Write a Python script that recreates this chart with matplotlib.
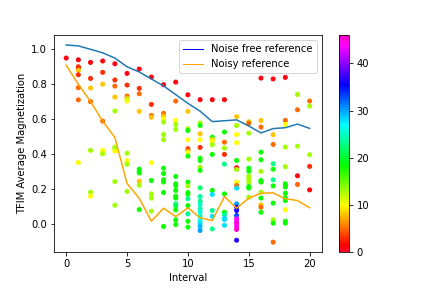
import matplotlib
matplotlib.use('Agg')
import matplotlib.pyplot as plt
from matplotlib.lines import Line2D

# Curvas de referencia
intervalos = list(range(21))
sem_ruido = [1.025, 1.02, 1.0, 0.98, 0.95, 0.9, 0.87, 0.83, 0.79, 0.74, 0.69,
             0.645, 0.585, 0.59, 0.595, 0.56, 0.52, 0.545, 0.55, 0.571, 0.546]
com_ruido = [0.908, 0.80, 0.70, 0.588, 0.494, 0.23, 0.145, 0.013, 0.088, 0.04, 0.09,
             0.033, 0.017, 0.155, 0.088, 0.145, 0.174, 0.176, 0.142, 0.132, 0.09]

# Pontos medidos (valor, cor) por intervalo
R, OR, O, YO, Y, YG, G, GC, C, B, M = 1, 3, 5, 8, 10, 13, 18, 23, 28, 37, 44
medidas = [
    [(0.95, R)],
    [(0.94, R), (0.90, OR), (0.894, OR), (0.88, YO), (0.854, OR), (0.78, O), (0.71, O), (0.35, Y)],
    [(0.925, R), (0.833, OR), (0.778, YO), (0.70, O), (0.42, YG), (0.18, YG), (0.157, Y)],
    [(0.933, R), (0.868, OR), (0.80, YO), (0.588, O), (0.42, Y), (0.41, Y), (0.40, YG)],
    [(0.917, R), (0.824, OR), (0.789, O), (0.726, YO), (0.646, YG), (0.439, YG), (0.425, YG),
     (0.416, Y), (0.241, YG), (0.105, YG)],
    [(0.862, R), (0.795, OR), (0.732, O), (0.72, YO), (0.71, YG), (0.703, Y), (0.404, YG),
     (0.362, Y), (0.35, Y), (0.34, YG), (0.184, YG)],
    [(0.887, R), (0.776, OR), (0.745, O), (0.644, YO), (0.312, G), (0.30, G), (0.29, G),
     (0.243, YO), (0.22, YG), (0.08, G)],
    [(0.841, R), (0.684, OR), (0.62, O), (0.61, YO), (0.349, Y), (0.247, G), (0.17, YG),
     (0.146, YG), (0.071, YG)],
    [(0.797, R), (0.632, O), (0.617, YO), (0.60, Y), (0.582, YG), (0.511, YG), (0.481, YG),
     (0.318, G), (0.287, G), (0.251, G), (0.238, G), (0.178, G), (-0.017, G)],
    [(0.812, R), (0.703, O), (0.592, Y), (0.569, YG), (0.54, YG), (0.27, G), (0.228, G),
     (0.218, G), (0.19, G), (0.157, G), (0.146, G), (0.113, GC), (0.10, 21), (0.078, G),
     (0.021, G), (-0.006, G)],
    [(0.739, R), (0.644, YO), (0.544, YG), (0.534, G), (0.481, Y), (0.429, OR), (0.42, O),
     (0.41, Y), (0.387, G), (0.238, G), (0.215, YG), (0.178, G), (0.167, G), (0.142, GC),
     (0.103, G), (0.056, GC), (0.013, G), (-0.021, G)],
    [(0.711, R), (0.577, YG), (0.563, G), (0.515, YO), (0.481, Y), (0.437, OR), (0.375, G),
     (0.362, G), (0.324, YG), (0.305, G), (0.205, 22), (0.155, 24), (0.128, 23), (0.109, 25),
     (0.084, 24), (0.067, 26), (0.042, 25), (0.017, 27), (0.0, C), (-0.017, 29), (-0.04, 30)],
    [(0.711, R), (0.496, G), (0.483, YO), (0.473, Y), (0.452, YG), (0.397, G), (0.19, G),
     (0.167, C), (0.075, GC), (0.042, C), (-0.031, GC)],
    [(0.711, R), (0.525, G), (0.467, O), (0.433, YG), (0.397, OR), (0.341, GC), (0.17, G),
     (0.065, G), (0.052, GC), (0.031, C), (0.023, C), (-0.01, C)],
    [(0.613, YO), (0.563, YG), (0.511, Y), (0.464, Y), (0.362, G), (0.32, R), (0.31, YG),
     (0.238, Y), (0.218, O), (0.203, C), (0.113, 30), (0.094, B), (0.075, 36), (0.046, 33),
     (0.027, M), (0.011, M), (0.0, 45), (-0.017, M), (-0.034, 45), (-0.096, B)],
    [(0.584, YO), (0.575, O), (0.519, YG), (0.37, YG), (0.318, G), (0.30, G), (0.272, YG),
     (0.257, YG), (0.238, YG), (0.213, G), (0.203, G), (0.151, YG)],
    [(0.835, R), (0.592, YO), (0.554, O), (0.41, G), (0.366, G), (0.299, YG), (0.247, G),
     (0.238, G), (0.18, YG), (0.146, G), (0.107, YO), (0.094, O), (0.065, G)],
    [(0.83, R), (0.51, YO), (0.454, O), (0.343, GC), (0.312, G), (0.251, GC), (0.216, G),
     (0.117, G), (0.021, YG), (0.002, G), (-0.107, O)],
    [(0.839, R), (0.592, O), (0.569, Y), (0.439, YG), (0.326, YG), (0.228, G), (0.218, G),
     (0.209, G), (0.174, G), (0.148, G), (0.132, G), (0.079, Y), (0.013, G), (0.002, G)],
    [(0.741, YG), (0.653, O), (0.444, YG), (0.274, R), (0.224, O)],
    [(0.703, O), (0.674, YG), (0.395, YG), (0.328, OR), (0.193, R)],
]

xs, ys, cs = [], [], []
for i, grupo in enumerate(medidas):
    for valor, cor in grupo:
        xs.append(i)
        ys.append(valor)
        cs.append(cor)

fig = plt.figure(figsize=(6, 4), dpi=72)
sc = plt.scatter(xs, ys, c=cs, cmap='gist_rainbow', vmin=0, vmax=46, s=16)
plt.plot(intervalos, sem_ruido, color='C0', linewidth=1.5)
plt.plot(intervalos, com_ruido, color='orange', linewidth=1.5)
plt.colorbar(sc)
plt.subplots_adjust(bottom=0.125, top=0.878)

handles = [Line2D([0], [0], color='blue', lw=1), Line2D([0], [0], color='orange', lw=1)]
plt.legend(handles, ['Noise free reference', 'Noisy reference'], loc='upper right')
plt.xlabel('Interval')
plt.ylabel('TFIM Average Magnetization')
plt.savefig('out.png', dpi=72)
